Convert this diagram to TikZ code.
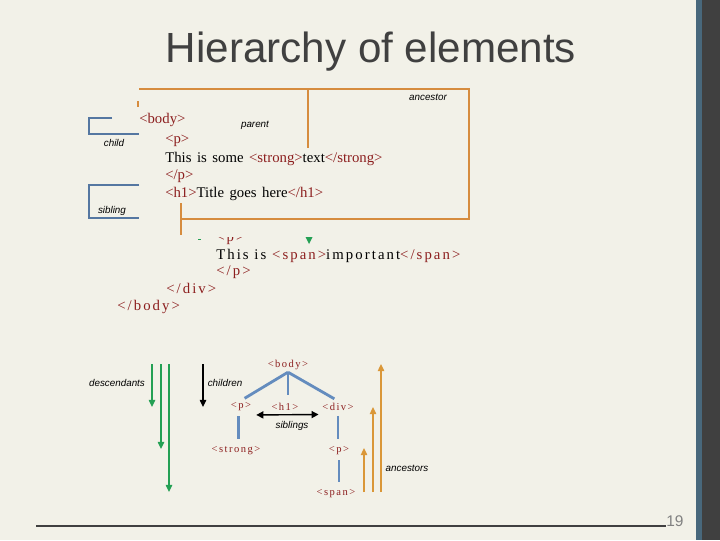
\documentclass[tikz,border=0pt]{standalone}
\usepackage{fontspec}
\setmainfont{Liberation Serif}
\setsansfont{Liberation Sans}
\newfontfamily\codewide[WordSpace=1.5]{Liberation Serif}
\newfontfamily\codespaced[LetterSpace=14]{Liberation Serif}
\usetikzlibrary{arrows.meta,positioning}
\definecolor{paper}{RGB}{242,241,232}
\definecolor{coal}{RGB}{64,64,64}
\definecolor{slate}{RGB}{72,104,124}
\definecolor{tagred}{RGB}{140,30,30}
\definecolor{rust}{RGB}{214,140,62}
\definecolor{steel}{RGB}{100,140,190}
\definecolor{grass}{RGB}{36,160,84}
\newcommand{\tg}[1]{\textcolor{tagred}{#1}}

\begin{document}
\begin{tikzpicture}[x=0.025cm,y=-0.025cm,
    codeline/.style={anchor=base west,inner sep=0pt,font=\codewide\fontsize{10.5}{12}\selectfont},
    spaceline/.style={anchor=base west,inner sep=0pt,font=\codespaced\fontsize{10.5}{12}\selectfont},
    treetag/.style={text=tagred,inner sep=1.5pt,font=\codespaced\fontsize{7.5}{9}\selectfont},
    note/.style={inner sep=0pt,font=\sffamily\itshape\fontsize{7}{8}\selectfont},
    box/.style={draw=rust,line width=1pt},
    bracket/.style={draw=steel!85!black,line width=0.8pt},
    branch/.style={draw=steel,line width=2pt},
    down/.style={draw=grass,line width=1pt,-{Triangle[width=4.5pt,length=5pt]}},
    up/.style={draw=rust!90!yellow,line width=1pt,-{Triangle[width=4.5pt,length=5pt]}}]
  % page
  \fill[paper] (0,0) rectangle (720,540);
  \fill[slate] (696,0) rectangle (702,540);
  \fill[coal] (702,0) rectangle (720,540);
  \useasboundingbox (0,0) rectangle (720,540);
  \node[anchor=base,inner sep=0pt,text=coal,font=\sffamily\fontsize{30}{34}\selectfont] (title) at (371,62) {Hierarchy of elements};

  % source listing
  \foreach \t/\x/\y [count=\i] in {
    {\tg{<body>}}/139/123,
    {\tg{<p>}}/165/143,
    {This is some \tg{<strong>}text\tg{</strong>}}/165/162,
    {\tg{</p>}}/165/179,
    {\tg{<h1>}Title goes here\tg{</h1>}}/165/197}
  {
    \node[codeline] (ca\i) at (\x,\y) {\t};
  }
  \begin{scope}
    \clip (205,237) rectangle (260,250);
    \node[spaceline] (cb0) at (216,241) {\tg{<p>}};
  \end{scope}
  \foreach \t/\x/\y [count=\i] in {
    {This is \tg{<span>}important\tg{</span>}}/216/259,
    {\tg{</p>}}/216/275,
    {\tg{</div>}}/166/293,
    {\tg{</body>}}/117/310}
  {
    \node[spaceline] (cb\i) at (\x,\y) {\t};
  }
  \fill[grass] (198,238.5) rectangle (201,239.5);
  \fill[grass] (305.5,237) -- (312.5,237) -- (309,244) -- cycle;

  % orange and blue marks
  \draw[box] (139,89) -- (469,89) -- (469,219) -- (181,219);
  \draw[box] (308,89) -- (308,148);
  \draw[box] (181,203) -- (181,235);
  \draw[rust,line width=1pt] (138,101) -- (138,107);
  \draw[bracket] (112,118) -- (89,118) -- (89,134) -- (139,134);
  \draw[bracket] (139,185) -- (89,185) -- (89,218) -- (139,218);
  \node[note] (lanc) at (428,97) {ancestor};
  \node[note] (lpar) at (255,125) {parent};
  \node[note] (lchi) at (114,143) {child};
  \node[note] (lsib) at (112,211) {sibling};

  % tree
  \node[treetag] (tbody) at (288,365) {<body>};
  \node[treetag] (tp) at (241,407) {<p>};
  \node[treetag] (th) at (285,407) {<h1>};
  \node[treetag] (tdiv) at (338,407) {<div>};
  \node[treetag] (tstr) at (236,451) {<strong>};
  \node[treetag] (tp2) at (339,451) {<p>};
  \node[treetag] (tspan) at (336,494) {<span>};
  \draw[branch,shorten >=3pt] (tbody.south) -- (tp.north);
  \draw[branch,shorten >=4pt] (tbody.south) -- (tbody.south |- th.north);
  \draw[branch,shorten >=3pt] (tbody.south) -- (tdiv.north);
  \draw[branch,shorten <=2pt,shorten >=4pt] ([xshift=-2pt]tp.south) -- ([xshift=-2pt]tp.south |- tstr.north);
  \draw[branch,shorten <=2pt,shorten >=4pt] (tdiv.south) -- (tdiv.south |- tp2.north);
  \draw[branch,shorten <=2pt,shorten >=4pt] (tp2.south) -- (tp2.south |- tspan.north);
  \draw[line width=1pt,{Triangle[width=5pt,length=5pt]}-{Triangle[width=5pt,length=5pt]}]
    ([xshift=2pt,yshift=-1pt]tp.south east) -- ([xshift=-1pt,yshift=-1pt]tdiv.south west);
  \node[note] (lsibs) at (292,426) {siblings};

  % direction arrows
  \foreach \x/\y [count=\i] in {152/407,161/449,169/492}
  {
    \coordinate (ds\i) at (\x,364);
    \coordinate (de\i) at (\x,\y);
    \draw[down] (ds\i) -- (de\i);
  }
  \coordinate (cs) at (203,364);
  \coordinate (ce) at (203,407);
  \draw[line width=1pt,-{Triangle[width=4.5pt,length=5pt]}] (cs) -- (ce);
  \foreach \x/\y [count=\i] in {364/448,373/407,381/364}
  {
    \coordinate (as\i) at (\x,492);
    \coordinate (ae\i) at (\x,\y);
    \draw[up] (as\i) -- (ae\i);
  }
  \node[note] (ldes) at (117,383) {descendants};
  \node[note] (lchn) at (225,383) {children};
  \node[note] (lans) at (407,468) {ancestors};

  % footer
  \coordinate (fl) at (36,526);
  \coordinate (fr) at (666,526);
  \draw[coal,line width=1pt] (fl) -- (fr);
  \node[anchor=base west,inner sep=0pt,text=gray,font=\sffamily\fontsize{11}{12}\selectfont] (pnum) at (666,526) {19};
\end{tikzpicture}
\end{document}
